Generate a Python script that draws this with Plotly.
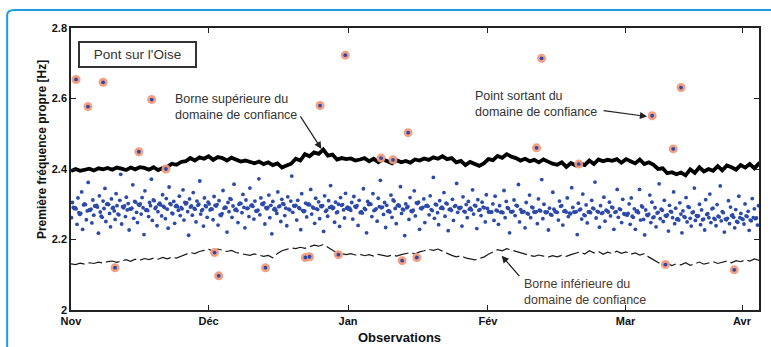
import plotly.graph_objects as go

# ---------------- data ----------------
month_labels = ["Nov", "Déc", "Jan", "Fév", "Mar", "Avr"]
month_ticks = [0, 30, 60.4, 90.9, 120.9, 146.3]
x_end = 150
y_ticks = [2, 2.2, 2.4, 2.6, 2.8]
y_tick_labels = ["2", "2.2", "2.4", "2.6", "2.8"]

# observed first natural frequency (thousandths of Hz above 2 Hz), per month
obs_nov = [262, 305, 291, 288, 290, 287, 243, 318, 276, 271, 274, 335, 229, 298, 301, 299, 256, 281, 362, 284,
           283, 286, 247, 312, 269, 295, 294, 297, 292, 218, 324, 278, 266, 263, 309, 288, 345, 251, 300, 302,
           299, 274, 236, 315, 289, 291, 281, 257, 330, 296, 272, 270, 311, 385, 244, 293, 290, 295, 265, 320,
           284, 302, 227, 287, 286, 289, 355, 260, 308, 306, 277, 248, 299, 297, 301, 272, 319, 290, 214, 338,
           283, 285, 282, 265, 305, 296, 371, 254, 312, 310, 288, 292, 239, 279, 300, 303, 298, 267, 327, 294,
           291, 259, 316, 286, 232, 349, 302, 299, 275, 273, 308, 246, 294, 297, 293, 283, 323, 268, 290, 287,
           341, 255, 305, 301, 304, 279, 212, 315, 292, 295, 269, 333, 288, 286, 250, 309, 297, 300, 366, 272,
           282, 285, 238, 318, 296, 293, 263, 306]
obs_dec = [301, 284, 287, 286, 256, 322, 297, 295, 299, 241, 310, 270, 268, 273, 339, 289, 292, 290, 221, 305,
           279, 316, 314, 263, 295, 357, 284, 286, 282, 248, 300, 303, 302, 276, 328, 291, 233, 312, 288, 289,
           265, 346, 296, 298, 294, 258, 309, 281, 280, 283, 372, 270, 318, 301, 299, 304, 244, 290, 287, 291,
           326, 262, 297, 216, 308, 285, 288, 283, 274, 335, 293, 295, 251, 314, 302, 300, 268, 289, 239, 321,
           286, 284, 309, 380, 277, 296, 294, 297, 255, 311, 290, 288, 228, 330, 282, 279, 281, 303, 264, 299,
           301, 298, 342, 272, 292, 289, 246, 317, 287, 285, 307, 259, 295, 293, 296, 223, 324, 280, 283, 266,
           310, 291, 353, 294, 288, 290, 249, 306, 276, 278, 300, 237, 319, 297, 299, 284, 261, 331, 289, 292]
obs_jan = [286, 289, 283, 305, 258, 322, 294, 291, 296, 240, 311, 276, 279, 275, 344, 288, 285, 219, 308, 299,
           302, 300, 265, 330, 282, 284, 287, 252, 317, 293, 368, 290, 292, 271, 305, 234, 297, 280, 282, 278,
           326, 263, 312, 309, 288, 245, 296, 298, 295, 350, 274, 286, 284, 211, 301, 290, 293, 257, 319, 281,
           279, 283, 338, 267, 304, 302, 306, 229, 289, 287, 291, 315, 248, 295, 297, 294, 270, 324, 285, 282,
           376, 260, 300, 298, 276, 242, 310, 289, 292, 288, 333, 266, 303, 301, 225, 285, 287, 283, 314, 254,
           294, 296, 359, 277, 290, 288, 291, 238, 321, 280, 278, 299, 262, 308, 286, 289, 284, 341, 272, 297,
           295, 231, 313, 283, 285, 268, 306, 292, 290, 250, 327, 288]
obs_feb = [278, 279, 277, 278, 301, 254, 323, 283, 281, 243, 296, 277, 278, 276, 339, 262, 308, 290, 288, 219,
           279, 278, 280, 312, 268, 297, 295, 356, 250, 285, 277, 278, 279, 233, 305, 274, 272, 326, 262, 292,
           290, 278, 277, 279, 245, 315, 283, 281, 370, 259, 300, 278, 276, 278, 227, 289, 271, 269, 334, 286,
           279, 278, 277, 255, 309, 294, 296, 241, 280, 282, 278, 318, 265, 275, 273, 347, 291, 278, 277, 279,
           214, 303, 284, 286, 258, 329, 270, 268, 298, 247, 278, 279, 276, 311, 289, 287, 363, 261, 280, 278,
           235, 296, 274, 276, 320, 252, 283, 281, 278, 306, 267, 292, 290, 229, 277, 279, 342, 263, 287, 285,
           248, 314, 273, 271]
obs_mar = [272, 269, 274, 301, 243, 318, 266, 263, 287, 229, 279, 281, 276, 342, 255, 295, 292, 257, 213, 284,
           270, 268, 272, 326, 248, 306, 262, 264, 290, 236, 275, 277, 358, 259, 286, 283, 251, 311, 268, 266,
           270, 224, 297, 280, 278, 262, 335, 245, 289, 257, 259, 255, 304, 272, 219, 281, 265, 263, 319, 250,
           293, 291, 260, 238, 276, 278, 346, 254, 268, 265, 267, 300, 242, 284, 256, 258, 227, 313, 271, 273,
           262, 329, 248, 287, 289, 260, 257, 239, 299, 266, 264, 352, 253, 279, 276, 221, 258, 256, 260, 310,
           245, 292, 268, 270, 263, 233, 285, 251, 249, 323, 262, 274, 259, 257, 244, 301, 267, 265, 280, 226,
           255, 253, 316, 262, 287, 259, 261, 241, 296]

# upper confidence bound (Hz), one value per day
upper_bound = [2.394, 2.400, 2.395, 2.398, 2.401, 2.396, 2.402, 2.399, 2.403, 2.398, 2.404,
               2.401, 2.397, 2.404, 2.399, 2.405, 2.403, 2.398, 2.405, 2.397, 2.403,
               2.406, 2.415, 2.412, 2.420, 2.422, 2.431, 2.424, 2.433, 2.429, 2.436,
               2.426, 2.434, 2.431, 2.424, 2.432, 2.427, 2.421, 2.424, 2.419, 2.416,
               2.421, 2.414, 2.419, 2.411, 2.416, 2.404, 2.410, 2.415, 2.429, 2.424,
               2.442, 2.436, 2.447, 2.443, 2.455, 2.438, 2.441, 2.427, 2.431, 2.428,
               2.430, 2.424, 2.427, 2.431, 2.422, 2.429, 2.419, 2.427, 2.422, 2.416,
               2.425, 2.419, 2.423, 2.418, 2.427, 2.424, 2.430, 2.426, 2.433, 2.429,
               2.436, 2.428, 2.431, 2.419, 2.423, 2.411, 2.420, 2.413, 2.409, 2.416,
               2.428, 2.425, 2.437, 2.432, 2.442, 2.435, 2.431, 2.424, 2.429, 2.422,
               2.426, 2.419, 2.427, 2.421, 2.415, 2.412, 2.419, 2.406, 2.417, 2.410,
               2.416, 2.411, 2.424, 2.414, 2.427, 2.422, 2.426, 2.423, 2.428, 2.418,
               2.428, 2.422, 2.416, 2.427, 2.414, 2.419, 2.412, 2.400, 2.402, 2.388,
               2.391, 2.385, 2.390, 2.382, 2.399, 2.389, 2.405, 2.393, 2.400, 2.395,
               2.408, 2.396, 2.410, 2.405, 2.398, 2.411, 2.404, 2.414, 2.402, 2.416, 2.417]

# lower confidence bound (Hz), one value per day
lower_bound = [2.131, 2.129, 2.133, 2.130, 2.134, 2.132, 2.136, 2.133, 2.137, 2.139, 2.135,
               2.140, 2.143, 2.138, 2.144, 2.141, 2.146, 2.143, 2.147, 2.144, 2.149,
               2.145, 2.150, 2.147, 2.153, 2.158, 2.163, 2.160, 2.166, 2.169, 2.172,
               2.168, 2.173, 2.170, 2.166, 2.169, 2.163, 2.160, 2.158, 2.155, 2.159,
               2.156, 2.152, 2.155, 2.148, 2.160, 2.168, 2.172, 2.176, 2.174, 2.178,
               2.175, 2.180, 2.184, 2.181, 2.186, 2.178, 2.170, 2.162, 2.160, 2.157,
               2.160, 2.156, 2.158, 2.154, 2.157, 2.153, 2.158, 2.155, 2.152, 2.156,
               2.153, 2.157, 2.160, 2.163, 2.159, 2.165, 2.168, 2.172, 2.169, 2.173,
               2.167, 2.160, 2.155, 2.151, 2.154, 2.148, 2.145, 2.142, 2.146, 2.150,
               2.158, 2.165, 2.171, 2.168, 2.174, 2.170, 2.166, 2.162, 2.157, 2.155,
               2.152, 2.156, 2.153, 2.150, 2.154, 2.151, 2.155, 2.152, 2.157, 2.160,
               2.165, 2.159, 2.168, 2.162, 2.166, 2.158, 2.164, 2.160, 2.167, 2.161,
               2.165, 2.158, 2.162, 2.156, 2.160, 2.150, 2.142, 2.133, 2.127, 2.132,
               2.126, 2.131, 2.128, 2.134, 2.127, 2.131, 2.136, 2.130, 2.134, 2.137,
               2.132, 2.136, 2.139, 2.134, 2.140, 2.137, 2.142, 2.139, 2.145, 2.141, 2.146]

# points outside the confidence domain
out_day = [1.1, 3.7, 7.0, 14.8, 17.6, 20.7, 54.3, 59.8, 67.6, 70.2, 73.5, 101.5, 102.6, 110.7,
           126.7, 131.3, 133.0,
           9.6, 31.3, 32.2, 42.4, 51.1, 52.0, 58.3, 72.2, 75.4, 129.6, 144.6]
out_val = [2.654, 2.577, 2.646, 2.449, 2.597, 2.400, 2.580, 2.723, 2.431, 2.426, 2.503, 2.460, 2.714, 2.414,
           2.551, 2.457, 2.631,
           2.120, 2.163, 2.097, 2.120, 2.149, 2.151, 2.157, 2.140, 2.149, 2.129, 2.114]

# ---------------- build ----------------
segments = [obs_nov, obs_dec, obs_jan, obs_feb, obs_mar]
seg_bounds = month_ticks[:5] + [x_end]
obs_x, obs_y = [], []
for k, seg in enumerate(segments):
    a, b = seg_bounds[k], seg_bounds[k + 1]
    n = len(seg)
    for i, v in enumerate(seg):
        obs_x.append(a + (i + 0.5) * (b - a) / n)
        obs_y.append(2 + v / 1000.0)

days = list(range(len(upper_bound)))

NARROW = "Liberation Sans Narrow, Arial Narrow, Liberation Sans, Arial, sans-serif"
SANS = "Liberation Sans, Arial, sans-serif"

fig = go.Figure()
fig.add_trace(go.Scatter(x=days, y=lower_bound, mode="lines",
                         line=dict(color="#1a1a1a", width=1.2, dash="14px,4px"),
                         hoverinfo="skip"))
fig.add_trace(go.Scatter(x=days, y=upper_bound, mode="lines",
                         line=dict(color="#000000", width=3.8),
                         hoverinfo="skip"))
fig.add_trace(go.Scatter(x=out_day, y=out_val, mode="markers",
                         marker=dict(color="#f29a7c", size=9, opacity=0.95),
                         hoverinfo="skip"))
fig.add_trace(go.Scatter(x=obs_x + out_day, y=obs_y + out_val, mode="markers",
                         marker=dict(color="#2c4aaa", size=3.8),
                         hoverinfo="skip"))

axis_common = dict(showgrid=False, zeroline=False, showline=True, linecolor="#222222",
                   linewidth=1.5, mirror="ticks", ticks="inside", ticklen=5, tickwidth=1.2,
                   tickcolor="#222222",
                   tickfont=dict(family=NARROW, size=11, color="#111111", weight="bold"))

fig.update_layout(
    width=771, height=347,
    margin=dict(l=71, r=10, t=28, b=37),
    paper_bgcolor="white", plot_bgcolor="white",
    showlegend=False,
    xaxis=dict(range=[0, x_end], tickmode="array", tickvals=month_ticks,
               ticktext=month_labels, **axis_common),
    yaxis=dict(range=[2, 2.8], tickmode="array", tickvals=y_ticks,
               ticktext=y_tick_labels, **axis_common),
)

# outer blue frame
fig.add_shape(type="path", xref="paper", yref="paper",
              path="M -0.0928,-0.2 L -0.0928,1.045 Q -0.0928,1.0638 -0.082,1.0638 L 1.05,1.0638",
              line=dict(color="#1b9ce0", width=2))

# "Pont sur l'Oise" box
fig.add_annotation(xref="paper", yref="paper", x=(78 - 71) / 690, y=(310 - 41) / 282,
                   xanchor="left", yanchor="top", text="Pont sur l'Oise", showarrow=False,
                   font=dict(family=SANS, size=13.5, color="#333333"),
                   bordercolor="#333333", borderwidth=2, borderpad=3, bgcolor="white",
                   width=109, height=17)

# axis titles
fig.add_annotation(xref="paper", yref="paper", x=(400 - 71) / 690, y=(310 - 337) / 282,
                   text="<b>Observations</b>", showarrow=False, yanchor="middle",
                   font=dict(family=NARROW, size=13, color="#111111"))
fig.add_annotation(xref="paper", yref="paper", x=(33 - 71) / 690, y=(310 - 150) / 282,
                   text="<b>Première fréquence propre [Hz]</b>", showarrow=False, textangle=-90,
                   font=dict(family=SANS, size=12, color="#111111"))

txt_font = dict(family=SANS, size=12.5, color="#333333")
# text labels
fig.add_annotation(xref="paper", yref="paper", x=(173 - 71) / 690, y=(310 - 90) / 282,
                   xanchor="left", yanchor="top", align="left", showarrow=False,
                   text="Borne supérieure du<br>domaine de confiance", font=txt_font)
fig.add_annotation(xref="paper", yref="paper", x=(474 - 71) / 690, y=(310 - 87) / 282,
                   xanchor="left", yanchor="top", align="left", showarrow=False,
                   text="Point sortant du<br>domaine de confiance", font=txt_font)
fig.add_annotation(xref="paper", yref="paper", x=(523 - 71) / 690, y=(310 - 275) / 282,
                   xanchor="left", yanchor="top", align="left", showarrow=False,
                   text="Borne inférieure du<br>domaine de confiance",
                   font=dict(family=SANS, size=12.5, color="#4a3a32"))

# arrows
arrow = dict(showarrow=True, arrowhead=2, arrowsize=1.2, arrowwidth=1.2, arrowcolor="#222222", text="")
fig.add_annotation(x=54.6, y=2.457, ax=-22, ay=-34, **arrow)
fig.add_annotation(x=125.6, y=2.549, ax=-45, ay=-6, **arrow)
fig.add_annotation(x=93.9, y=2.154, ax=19, ay=22, **arrow)

fig.write_html("out.html", config={"displayModeBar": False},
               post_script="document.body.style.margin='0';")
